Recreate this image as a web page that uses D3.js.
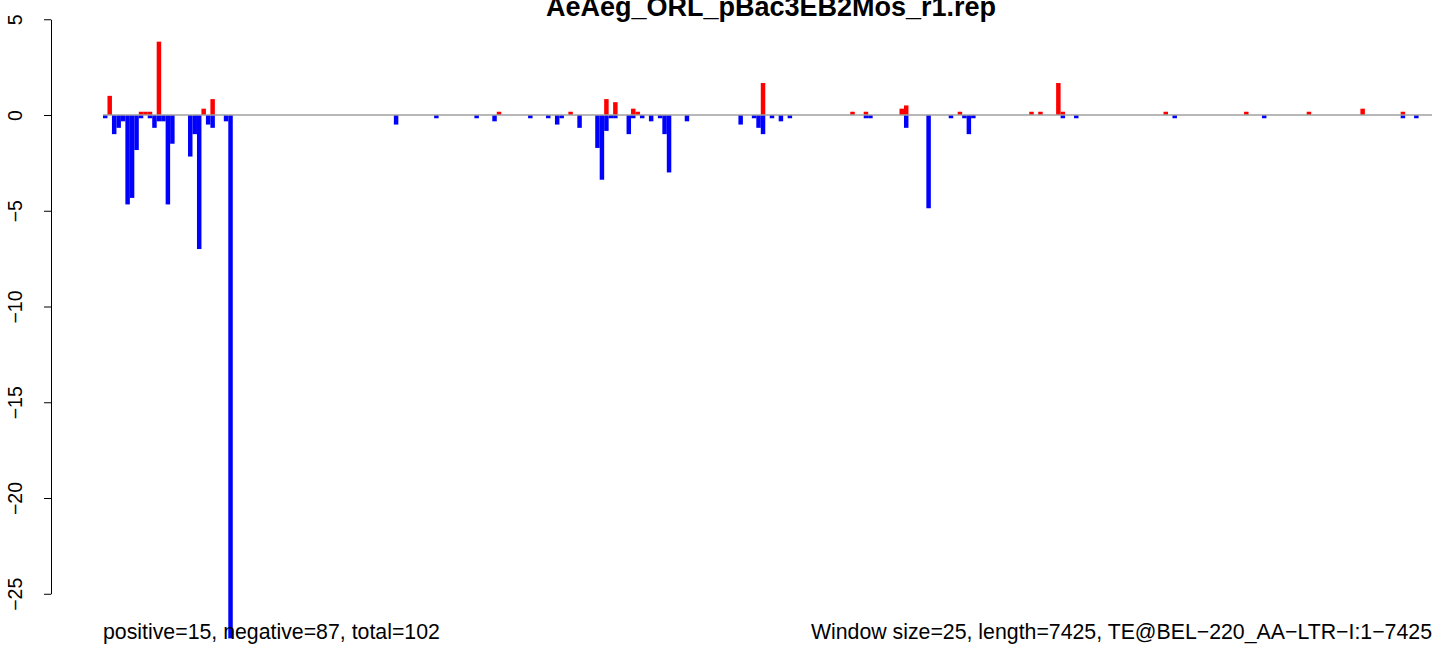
<!DOCTYPE html>
<html>
<head>
<meta charset="utf-8">
<script src="https://cdn.jsdelivr.net/npm/d3@7"></script>
<style>
  html, body { margin: 0; padding: 0; background: #fff; }
  svg { display: block; font-family: "Liberation Sans", Arial, Helvetica, sans-serif; }
</style>
</head>
<body>
<svg id="chart" width="1444" height="645"></svg>
<script>
// ---- data (window index along the TE, value per window) ----
const title = "AeAeg_ORL_pBac3EB2Mos_r1.rep";
const nWindows = 297; // 7425 / 25
const posWindow = [1, 8, 9, 10, 12, 22, 24, 88, 104, 112, 114, 118, 119, 147, 167, 170, 178, 179, 191, 207, 209, 213, 214, 237, 255, 269, 281, 290];
const posValue  = [1.0, 0.17, 0.17, 0.17, 3.83, 0.33, 0.83, 0.17, 0.17, 0.83, 0.67, 0.33, 0.17, 1.67, 0.17, 0.17, 0.33, 0.5, 0.17, 0.17, 0.17, 1.67, 0.17, 0.17, 0.17, 0.17, 0.33, 0.17];
const negWindow = [0, 2, 3, 4, 5, 6, 7, 8, 10, 11, 12, 13, 14, 15, 19, 20, 21, 23, 24, 27, 28,
                   65, 74, 83, 87, 95, 99, 101, 102, 106, 110, 111, 112, 113, 114, 117, 118, 120, 122, 124, 125, 126, 130,
                   142, 145, 146, 147, 149, 151, 153, 170, 171, 179, 184, 189, 192, 193, 194, 214, 217, 239, 259, 290, 293];
const negValue  = [-0.17, -1.0, -0.67, -0.33, -4.67, -4.33, -1.83, -0.17, -0.17, -0.67, -0.33, -0.33, -4.67, -1.5, -2.17, -1.0, -7.0, -0.5, -0.67, -0.33, -27.33,
                   -0.5, -0.17, -0.17, -0.33, -0.17, -0.17, -0.5, -0.17, -0.67, -1.72, -3.38, -0.83, -0.17, -0.17, -1.0, -0.17, -0.17, -0.33, -0.17, -1.0, -3.0, -0.33,
                   -0.5, -0.17, -0.67, -1.0, -0.17, -0.33, -0.17, -0.17, -0.17, -0.67, -4.87, -0.17, -0.17, -1.0, -0.17, -0.17, -0.17, -0.17, -0.17, -0.17, -0.17];
const yTicks = [5, 0, -5, -10, -15, -20, -25];
const yTickLabels = ["5", "0", "\u22125", "\u221210", "\u221215", "\u221220", "\u221225"];
const leftNote = "positive=15, negative=87, total=102";
const rightNote = "Window size=25, length=7425, TE@BEL\u2212220_AA\u2212LTR\u2212I:1\u22127425";

// ---- scales ----
const svg = d3.select("#chart");
const x = d3.scaleLinear().domain([0, nWindows]).range([103, 1432]);
const y = d3.scaleLinear().domain([-25, 5]).range([593.75, 19.25]);
const bw = x(1) - x(0);

const pos = posWindow.map((w, i) => ({w, v: posValue[i]}));
const neg = negWindow.map((w, i) => ({w, v: negValue[i]}));

// bars
svg.append("g").selectAll("rect").data(neg).join("rect")
  .attr("x", d => x(d.w)).attr("width", bw)
  .attr("y", y(0)).attr("height", d => y(d.v) - y(0))
  .attr("fill", "#0000FF");
svg.append("g").selectAll("rect").data(pos).join("rect")
  .attr("x", d => x(d.w)).attr("width", bw)
  .attr("y", d => y(d.v)).attr("height", d => y(0) - y(d.v))
  .attr("fill", "#FF0000");

// zero line
svg.append("line")
  .attr("x1", x(0)).attr("x2", x(nWindows))
  .attr("y1", y(0)).attr("y2", y(0))
  .attr("stroke", "#a0a0a0").attr("stroke-width", 1.5);

// y axis
const yAxis = d3.axisLeft(y).tickValues(yTicks).tickSize(7).tickSizeOuter(0)
  .tickFormat((d, i) => yTickLabels[i]);
const ga = svg.append("g").attr("transform", "translate(51,0)").call(yAxis);
ga.select(".domain").attr("stroke", "#000");
ga.selectAll(".tick line").attr("stroke", "#000");
ga.selectAll(".tick text")
  .attr("transform", "rotate(-90)")
  .attr("x", 0).attr("y", -29).attr("dy", 0)
  .attr("text-anchor", "middle")
  .attr("fill", "#000")
  .style("font-family", "'Liberation Sans', Arial, sans-serif")
  .style("font-size", "19.5px");

// title
svg.append("text")
  .attr("x", 771).attr("y", 16)
  .attr("text-anchor", "middle")
  .style("font-weight", "bold").style("font-size", "27px")
  .text(title);

// notes
svg.append("text").attr("x", 103).attr("y", 639)
  .style("font-size", "21.3px").text(leftNote);
svg.append("text").attr("x", 1432).attr("y", 639)
  .attr("text-anchor", "end")
  .style("font-size", "21.3px").text(rightNote);
</script>
</body>
</html>
